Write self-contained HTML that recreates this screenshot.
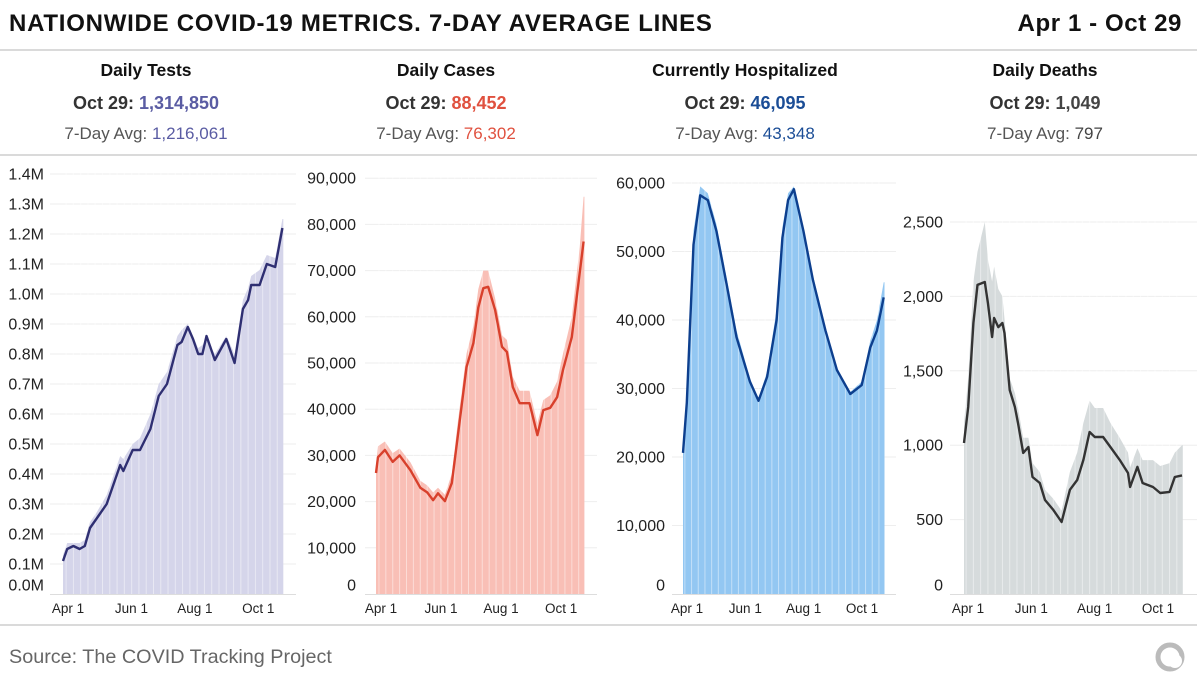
<!DOCTYPE html>
<html><head><meta charset="utf-8"><style>
body{margin:0;width:1197px;height:683px;overflow:hidden;background:#fff;font-family:"Liberation Sans",sans-serif;}
svg{display:block}
</style></head><body>
<svg id="s" width="1197" height="683">
<text x="9" y="31" font-size="24" font-weight="bold" letter-spacing="0.75" fill="#111">NATIONWIDE COVID-19 METRICS. 7-DAY AVERAGE LINES</text>
<text x="1182" y="31" font-size="24" font-weight="bold" letter-spacing="0.6" fill="#111" text-anchor="end">Apr 1 - Oct 29</text>
<line x1="0" x2="1197" y1="50" y2="50" stroke="#b5b5b5"/>
<line x1="0" x2="1197" y1="155" y2="155" stroke="#b5b5b5"/>
<line x1="0" x2="1197" y1="625" y2="625" stroke="#b5b5b5"/>
<text x="9" y="663" font-size="19.8" fill="#666">Source: The COVID Tracking Project</text>
<g><circle cx="1170" cy="657" r="12" fill="none" stroke="#bbb" stroke-width="5"/><circle cx="1175" cy="661" r="7" fill="#fff"/></g>
</svg>
<script>
// Tests (millions)
const testDays=[0,4,10,16,21,26,32,42,52,55,58,67,74,84,92,100,110,114,120,125,130,134,138,146,157,165,173,178,181,189,196,204,211];
const testAvg=[0.11,0.15,0.16,0.15,0.16,0.22,0.25,0.30,0.40,0.43,0.41,0.48,0.48,0.55,0.66,0.70,0.83,0.84,0.89,0.85,0.80,0.80,0.86,0.78,0.85,0.77,0.95,0.98,1.03,1.03,1.10,1.09,1.22];
const testDaily=[0.13,0.17,0.17,0.17,0.18,0.24,0.27,0.33,0.43,0.46,0.45,0.50,0.52,0.60,0.70,0.74,0.86,0.88,0.90,0.86,0.82,0.83,0.85,0.80,0.86,0.80,0.98,1.02,1.06,1.08,1.13,1.12,1.25];
const testTicks=[0,0.1,0.2,0.3,0.4,0.5,0.6,0.7,0.8,0.9,1.0,1.1,1.2,1.3,1.4];
// Cases
const caseDays=[0,2,9,17,24,35,45,52,58,63,70,77,83,92,99,104,109,114,121,128,133,139,146,156,164,170,177,184,190,199,207,211];
const caseAvg=[26200,29600,31200,28600,30000,26800,23000,22000,20300,21800,20100,24000,34000,49100,54300,62000,66200,66500,61500,53500,52400,44800,41300,41300,34400,39800,40300,42600,48500,55600,69500,76300];
const caseDaily=[28000,32000,33000,30500,31500,28500,24500,23500,22000,23000,21500,26000,37000,52000,58000,66000,70000,70000,64000,56000,55000,47000,44000,44000,37000,42000,43000,46000,52000,60000,75000,86000];
const caseTicks=[0,10000,20000,30000,40000,50000,60000,70000,80000,90000];
// Hospitalized
const hospDays=[1,5,12,19,27,36,47,57,71,80,89,99,105,111,117,127,137,150,162,176,188,197,204,211];
const hospAvg=[20600,27900,51000,58200,57500,53000,45000,37500,31000,28200,31700,40000,52000,57500,59100,53000,45800,38500,32700,29200,30500,36000,38500,43300];
const hospDaily=[21500,29000,53000,59500,58500,54000,46000,38500,31500,28500,32500,41500,53500,58500,59500,53500,46500,39000,33000,29500,31000,37000,40000,45500];
const hospTicks=[0,10000,20000,30000,40000,50000,60000];
// Deaths
const deathDays=[1,5,10,14,21,24,28,30,34,38,40,45,50,53,58,63,67,74,79,87,95,103,110,116,122,127,135,142,151,159,161,168,173,183,190,199,204,211];
const deathAvg=[1015,1257,1821,2077,2097,1956,1727,1855,1794,1821,1754,1371,1257,1149,948,988,786,746,632,565,484,700,766,901,1089,1055,1055,988,901,813,719,854,746,719,679,686,786,797];
const deathDaily=[1150,1450,2100,2300,2500,2250,2100,2200,2050,2000,1850,1450,1350,1250,1050,1050,880,820,700,640,560,820,950,1150,1300,1250,1250,1150,1050,950,850,980,900,900,860,880,950,1000];
const deathTicks=[0,500,1000,1500,2000,2500];

const NS='http://www.w3.org/2000/svg';
const svg=document.getElementById('s');
function mk(tag,attrs,parent){const e=document.createElementNS(NS,tag);for(const k in attrs)e.setAttribute(k,attrs[k]);(parent||svg).appendChild(e);return e;}
const monthDays=[0,61,122,183];
const monthLabels=['Apr 1','Jun 1','Aug 1','Oct 1'];

function panel(o){
  const g=mk('g',{});
  
  
  const x=d=>o.x0+d*o.dx;
  const y=v=>594-v*o.sy;
  let t=mk('text',{x:o.cx,y:76,'font-size':17.5,'font-weight':'bold','text-anchor':'middle',fill:'#111'},g);
  t.textContent=o.title;
  
  
  t=mk('text',{x:o.cx,y:109,'font-size':18,'font-weight':'bold','text-anchor':'middle',fill:'#333'},g);
  t.innerHTML='Oct 29: <tspan fill="'+o.vc+'">'+o.today+'</tspan>';
  
  
  t=mk('text',{x:o.cx,y:139,'font-size':17,'text-anchor':'middle',fill:'#555'},g);
  t.innerHTML='7-Day Avg: <tspan fill="'+o.vc+'">'+o.avgText+'</tspan>';
  
  
  o.ticks.forEach((v,i)=>{
    const gy=y(v);
    if(v>0){const l=mk('line',{x1:o.gx1,x2:o.gx2,y1:gy,y2:gy,stroke:'#eeeeee'},g);
      
      }
    const lab=mk('text',{x:o.lx,y:(v===0?585:gy)+5.5,'font-size':16,'text-anchor':'end',fill:'#222'},g);
    lab.textContent=o.fmt(v);
    
    
  });
  // daily bars area
  const days=o.days,daily=o.daily;
  let pts='M'+x(days[0]).toFixed(1)+',594';
  days.forEach((d,i)=>{pts+='L'+x(d).toFixed(1)+','+y(daily[i]).toFixed(1);});
  pts+='L'+x(days[days.length-1]+0.8).toFixed(1)+','+y(daily[days.length-1]).toFixed(1);
  pts+='L'+x(days[days.length-1]+0.8).toFixed(1)+',594Z';
  const area=mk('path',{d:pts,fill:o.bc},g);
  
  
  for(let d=3;d<212;d+=7){const l=mk('line',{x1:x(d),x2:x(d),y1:170,y2:594,stroke:'#fff','stroke-opacity':0.45,'stroke-width':1},g);
    
    }
  const ax=mk('line',{x1:o.gx1,x2:o.gx2,y1:594.5,y2:594.5,stroke:'#ddd'},g);
  
  
  monthDays.forEach((d,i)=>{
    const l=mk('text',{x:x(d)+5,y:613,'font-size':13.5,'text-anchor':'middle',fill:'#222'},g);
    l.textContent=monthLabels[i];
    
    
  });
  const p=mk('path',{d:o.days.map((d,i)=>(i?'L':'M')+x(d).toFixed(1)+','+y(o.avg[i]).toFixed(1)).join(''),fill:'none',stroke:o.lc,'stroke-width':2.4,'stroke-linejoin':'round'},g);
  
  
}
const comma=v=>v.toLocaleString('en-US');
panel({name:'tests',title:'Daily Tests',today:'1,314,850',avgText:'1,216,061',vc:'#5a5ca3',cx:146,x0:63,dx:1.04,sy:300,lx:44,gx1:50,gx2:296,ticks:testTicks,fmt:v=>v.toFixed(1)+'M',days:testDays,avg:testAvg,daily:testDaily,bc:'#d5d5ea',lc:'#2f2f72'});
panel({name:'cases',title:'Daily Cases',today:'88,452',avgText:'76,302',vc:'#e0513f',cx:446,x0:376,dx:0.984,sy:0.00462,lx:356,gx1:365,gx2:597,ticks:caseTicks,fmt:comma,days:caseDays,avg:caseAvg,daily:caseDaily,bc:'#f9bfb6',lc:'#d8402c'});
panel({name:'hospitalized',title:'Currently Hospitalized',today:'46,095',avgText:'43,348',vc:'#1b4d96',cx:745,x0:682,dx:0.956,sy:0.00685,lx:665,gx1:672,gx2:896,ticks:hospTicks,fmt:comma,days:hospDays,avg:hospAvg,daily:hospDaily,bc:'#93c7f2',lc:'#0d3f8e'});
panel({name:'deaths',title:'Daily Deaths',today:'1,049',avgText:'797',vc:'#444',cx:1045,x0:963,dx:1.038,sy:0.1488,lx:943,gx1:950,gx2:1197,ticks:deathTicks,fmt:comma,days:deathDays,avg:deathAvg,daily:deathDaily,bc:'#d6dbdc',lc:'#333333'});
</script>
</body></html>
